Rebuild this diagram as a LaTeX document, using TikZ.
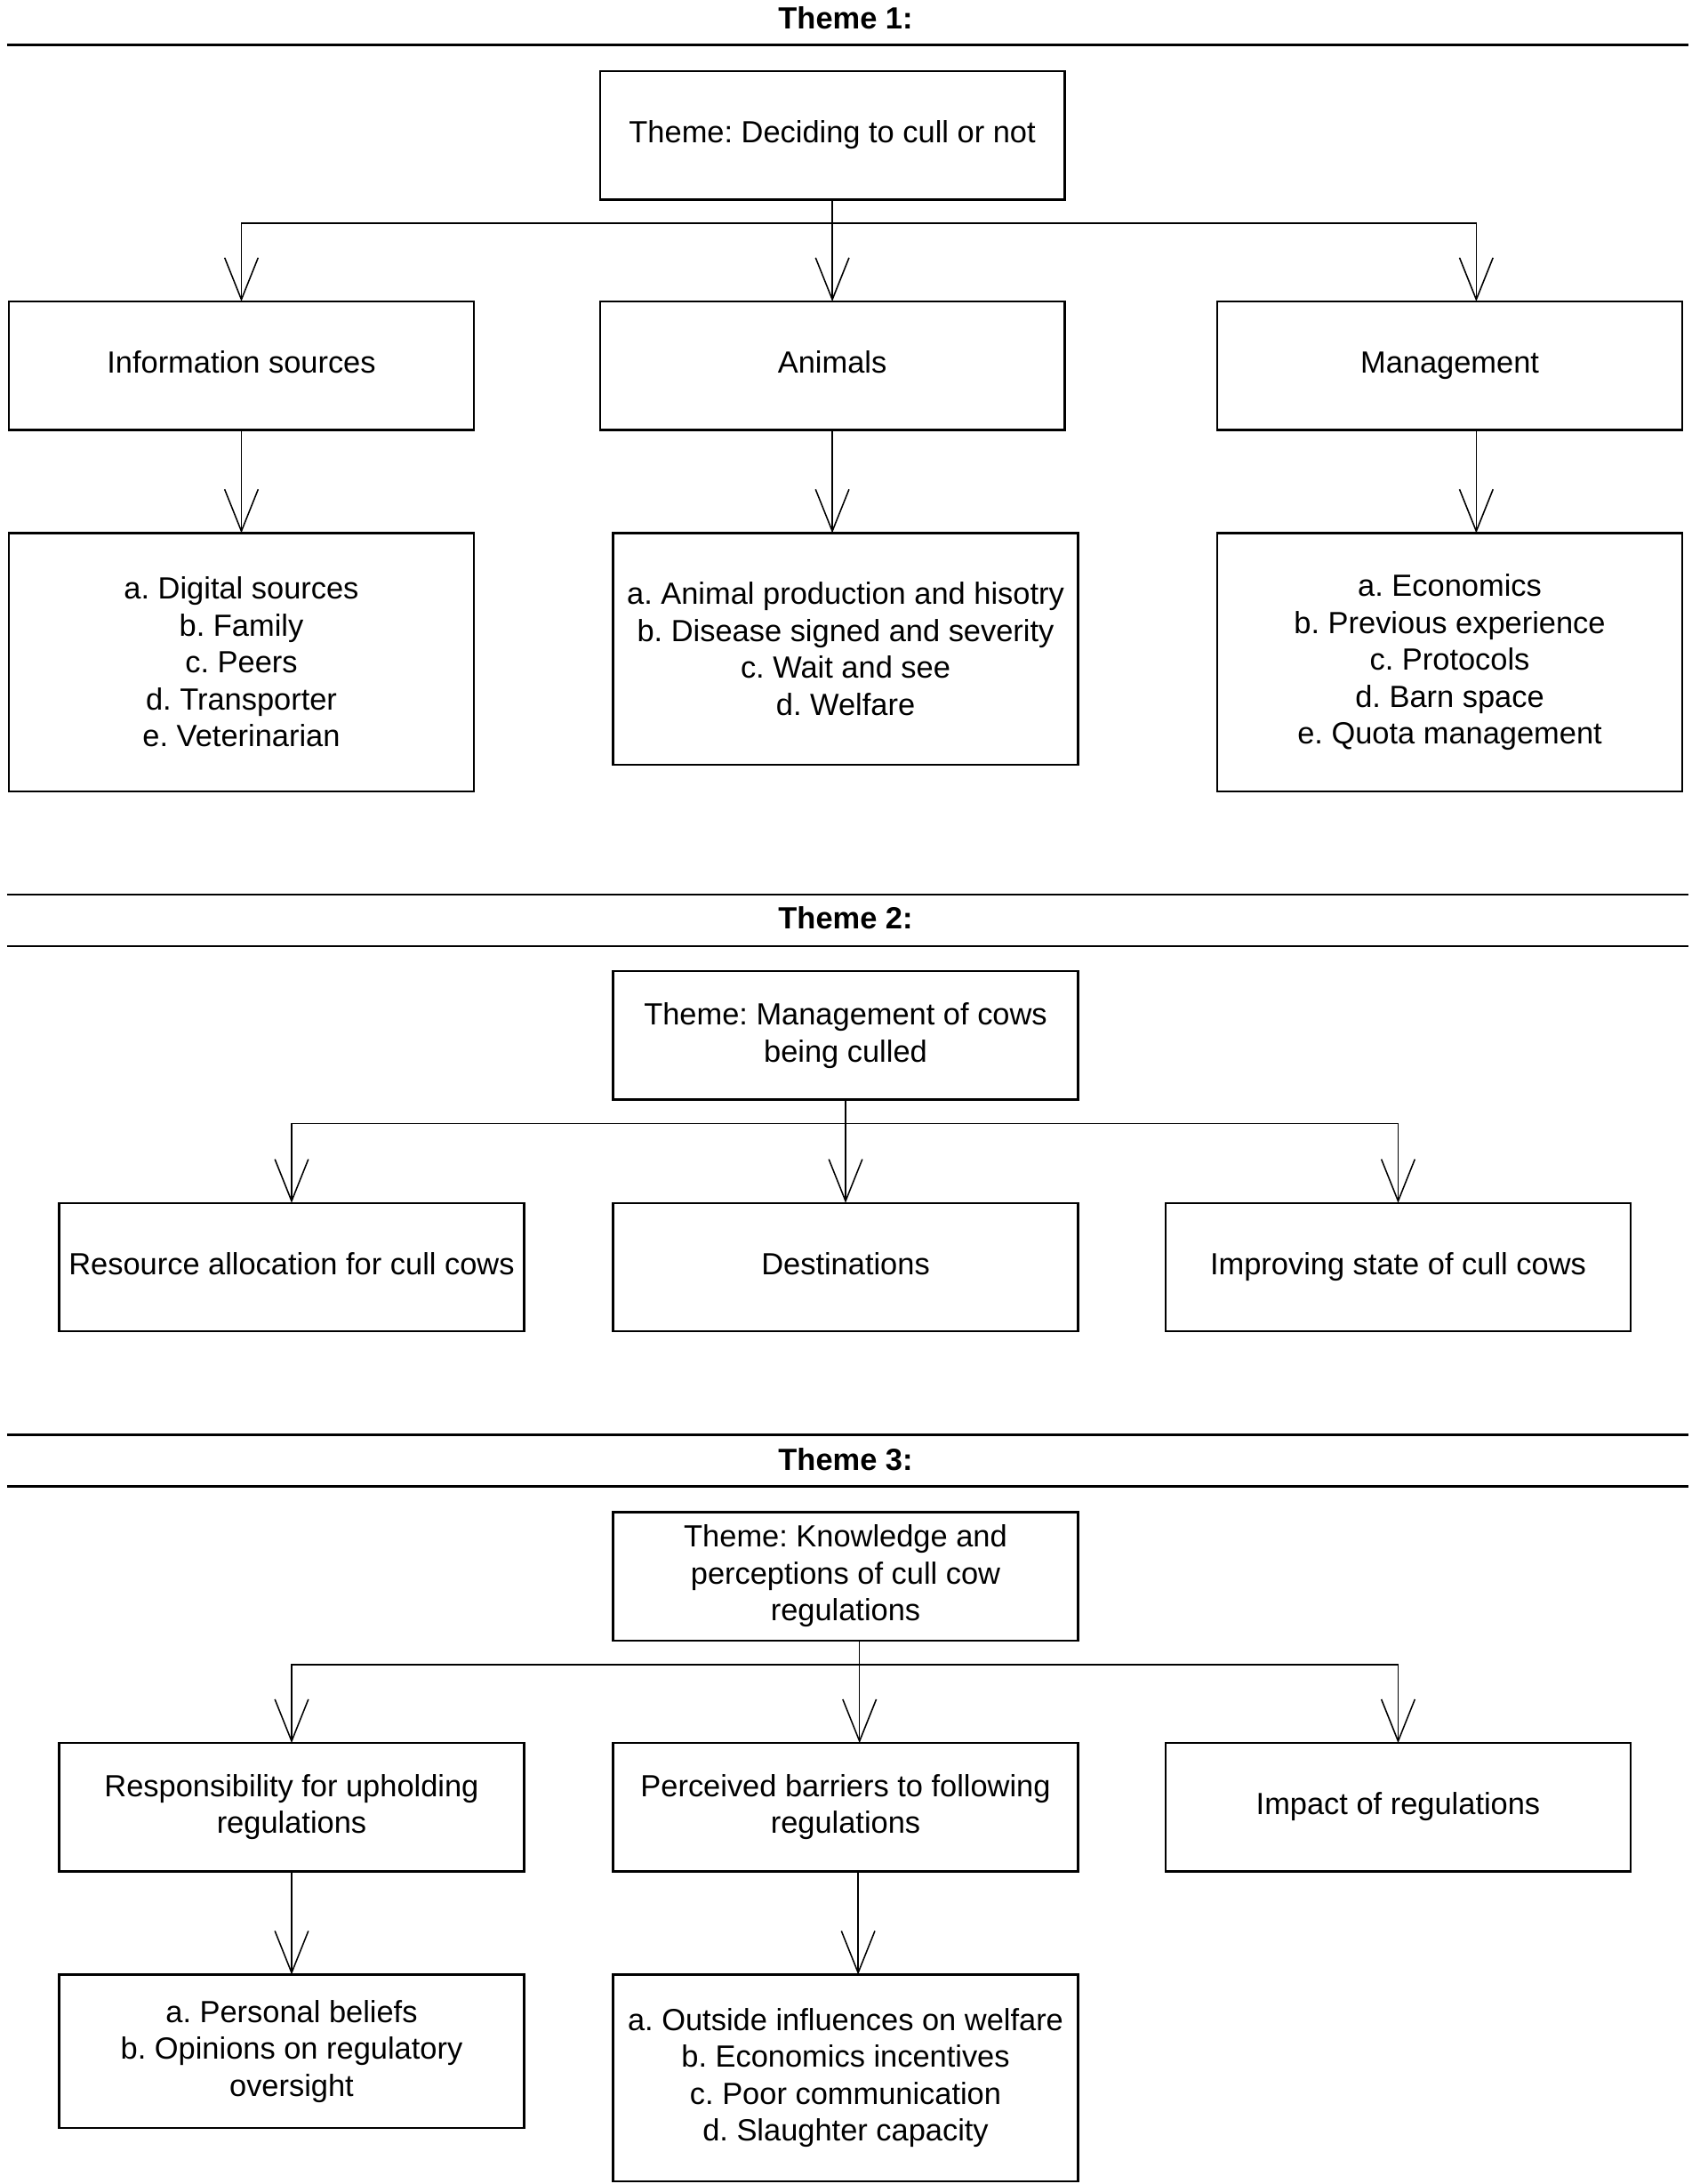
\documentclass[tikz,border=0pt]{standalone}
\usepackage{fontspec}
\setmainfont{Liberation Sans}
\frenchspacing
\usetikzlibrary{arrows.meta}
\usetikzlibrary{positioning}

\begin{document}
\begin{tikzpicture}[x=0.025cm,y=-0.025cm,
    box/.style={draw=black,line width=1.1pt,minimum width=8.325cm,minimum height=2.3cm,
        inner sep=0pt,outer sep=0pt,align=center,font=\fontsize{15.6pt}{18.8pt}\selectfont},
    oneline/.style={text height=0.73em,text depth=0pt},
    branch/.style={line width=0.7pt,-{Straight Barb[length=0.75cm,width=0.6cm]}},
    rule/.style={line width=1.3pt},
    heading/.style={font=\bfseries\fontsize{15.6pt}{18.8pt}\selectfont}]
\useasboundingbox (0,0) rectangle (1212,1565);

\edef\mid{606}
\edef\left{209}
\edef\right{1002}

% theme 1
\node[heading] (h1) at (\mid,13) {Theme 1:};
\draw[rule] (5,32) -- (1210,32);

\node[box,oneline] (t1) at (596.5,97) {Theme: Deciding to cull or not};
\node[box,oneline] (info) at (173,262) {Information sources};
\node[box,oneline] (anim) at (596.5,262) {Animals};
\node[box,oneline] (mgmt) at (1039,262) {Management};

\node[box,minimum height=4.625cm] (infol) at (173,474.5)
{a. Digital sources\\ b. Family\\ c. Peers\\ d. Transporter\\ e. Veterinarian};
\node[box,minimum height=4.15cm] (animl) at (\mid,465)
{a. Animal production and hisotry\\ b. Disease signed and severity\\ c. Wait and see\\ d. Welfare};
\node[box,minimum height=4.625cm] (mgmtl) at (1039,474.5)
{a. Economics\\ b. Previous experience\\ c. Protocols\\ d. Barn space\\ e. Quota management};

\draw[branch] (t1.south) -- (anim.north);
\draw[branch] (t1.south) -- ++(0,17) -| (info.north);
\draw[branch] (t1.south) -- ++(0,17) -| ([xshift=0.475cm]mgmt.north);

\draw[branch] (info.south) -- (infol.north);
\draw[branch] (anim.south) -- (anim.south |- animl.north);
\draw[branch] ([xshift=0.475cm]mgmt.south) -- ([xshift=0.475cm]mgmtl.north);

% theme 2
\draw[rule] (5,641) -- (1210,641);
\node[heading] (h2) at (\mid,658) {Theme 2:};
\draw[rule] (5,678) -- (1210,678);

\node[box] (t2) at (\mid,742) {Theme: Management of cows\\ being culled};
\node[box,oneline] (res) at (\left,908) {Resource allocation for cull cows};
\node[box,oneline] (dest) at (\mid,908) {Destinations};
\node[box,oneline] (impr) at (\right,908) {Improving state of cull cows};

\draw[branch] (t2.south) -- (dest.north);
\draw[branch] (t2.south) -- ++(0,17) -| (res.north);
\draw[branch] (t2.south) -- ++(0,17) -| (impr.north);

% theme 3
\draw[rule] (5,1028) -- (1210,1028);
\node[heading] (h3) at (\mid,1046) {Theme 3:};
\draw[rule] (5,1065) -- (1210,1065);

\node[box] (t3) at (\mid,1129.5) {Theme: Knowledge and\\ perceptions of cull cow\\ regulations};
\node[box] (resp) at (\left,1295) {Responsibility for upholding\\ regulations};
\node[box] (barr) at (\mid,1295) {Perceived barriers to following\\ regulations};
\node[box,oneline] (imp) at (\right,1295) {Impact of regulations};

\node[box,minimum height=2.75cm] (pers) at (\left,1470)
{a. Personal beliefs\\ b. Opinions on regulatory\\ oversight};
\node[box,minimum height=3.7cm] (outs) at (\mid,1489)
{a. Outside influences on welfare\\ b. Economics incentives\\ c. Poor communication\\ d. Slaughter capacity};

\draw[branch] ([xshift=0.25cm]t3.south) -- ([xshift=0.25cm]barr.north);
\draw[branch] ([xshift=0.25cm]t3.south) -- ++(0,17.5) -| (resp.north);
\draw[branch] ([xshift=0.25cm]t3.south) -- ++(0,17.5) -| (imp.north);

\draw[branch] (resp.south) -- (pers.north);
\draw[branch] ([xshift=0.225cm]barr.south) -- ([xshift=0.225cm]outs.north);
\end{tikzpicture}
\end{document}
